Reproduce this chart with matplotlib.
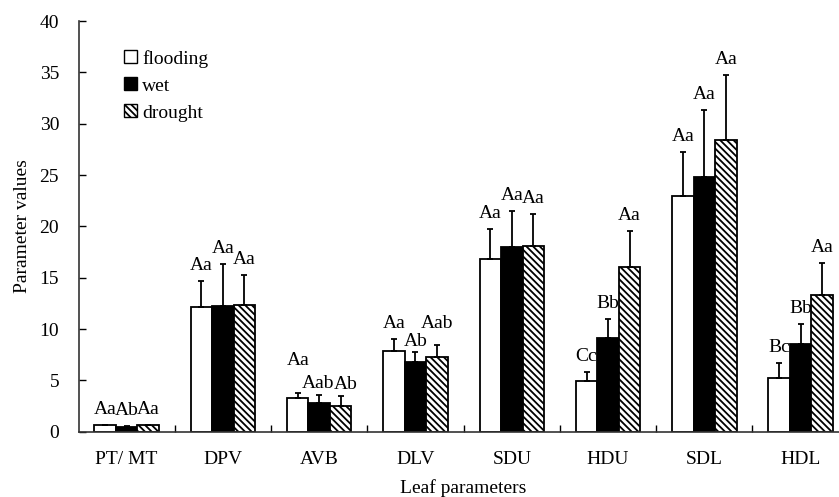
import matplotlib
matplotlib.use("Agg")
import matplotlib.pyplot as plt
import numpy as np
from matplotlib.patches import Patch

categories = ["PT/ MT", "DPV", "AVB", "DLV", "SDU", "HDU", "SDL", "HDL"]
flooding = [0.62, 12.1, 3.3, 7.9, 16.8, 4.9, 23.0, 5.2]
wet = [0.45, 12.2, 2.75, 6.8, 17.95, 9.15, 24.85, 8.5]
drought = [0.62, 12.3, 2.5, 7.25, 18.1, 16.05, 28.45, 13.3]
flooding_err = [0.0, 2.6, 0.5, 1.15, 2.9, 0.9, 4.2, 1.5]
wet_err = [0.12, 4.1, 0.8, 1.0, 3.55, 1.85, 6.45, 1.95]
drought_err = [0.0, 3.0, 0.95, 1.2, 3.1, 3.5, 6.3, 3.1]
flooding_lab = ["Aa", "Aa", "Aa", "Aa", "Aa", "Cc", "Aa", "Bc"]
wet_lab = ["Ab", "Aa", "Aab", "Ab", "Aa", "Bb", "Aa", "Bb"]
drought_lab = ["Aa", "Aa", "Ab", "Aab", "Aa", "Aa", "Aa", "Aa"]

# a few labels were nudged by hand in the original: (series, category) -> (dx, dy) points
nudge = {(0, 2): (0, 12), (1, 2): (-1, -3), (2, 2): (4, -3), (1, 3): (0, -4), (2, 3): (0, 4)}

plt.rcParams["font.family"] = ["Liberation Serif", "DejaVu Serif"]
plt.rcParams["font.size"] = 14
plt.rcParams["hatch.linewidth"] = 1.3

fig = plt.figure(figsize=(8.39, 4.97), dpi=100)
ax = fig.add_axes([0.0936, 0.1314, 0.918, 0.8263])

x = np.arange(len(categories))
w = 0.223
series = [
    (flooding, flooding_err, flooding_lab, "white", "", "flooding"),
    (wet, wet_err, wet_lab, "black", "", "wet"),
    (drought, drought_err, drought_lab, "white", "\\\\\\\\\\", "drought"),
]

handles = []
for k, (vals, errs, labs, fc, hatch, name) in enumerate(series):
    pos = x + (k - 1) * w
    ax.bar(pos, vals, width=w, color=fc, edgecolor="black", hatch=hatch,
           linewidth=1.3, zorder=2)
    ax.errorbar(pos, vals, yerr=[np.zeros(len(vals)), errs], fmt="none",
                ecolor="black", elinewidth=1.3, capsize=2.5, capthick=1.3, zorder=3)
    for i, (p, v, e, t) in enumerate(zip(pos, vals, errs, labs)):
        dx, dy = nudge.get((k, i), (0, 0))
        ax.annotate(t, (p, v + e), xytext=(dx, 5 + dy), textcoords="offset points",
                    ha="center", va="bottom")
    handles.append(Patch(facecolor=fc, edgecolor="black", hatch=hatch, label=name))

ax.set_xlim(-0.5, len(categories) - 0.5)
ax.set_ylim(0, 40)
ax.set_yticks(np.arange(0, 41, 5))
ax.set_xticks(x)
ax.set_xticklabels(categories)
ax.set_xticks(x[:-1] + 0.5, minor=True)
ax.tick_params(axis="x", which="major", length=0, pad=14)
ax.tick_params(axis="x", which="minor", direction="in", length=5, width=1)
ax.tick_params(axis="y", direction="in", length=5, width=1, pad=14)
for s in ["top", "right"]:
    ax.spines[s].set_visible(False)
for s in ["left", "bottom"]:
    ax.spines[s].set_color("#333333")
    ax.spines[s].set_linewidth(1.2)

ax.set_xlabel("Leaf parameters", labelpad=8)
ax.set_ylabel("Parameter values", labelpad=6)

ax.legend(handles=handles, loc="upper left", bbox_to_anchor=(0.059, 0.93),
          frameon=False, borderpad=0, handlelength=0.65, handleheight=0.65,
          handletextpad=0.3, labelspacing=0.5, borderaxespad=0)

fig.savefig("out.png", dpi=100)
